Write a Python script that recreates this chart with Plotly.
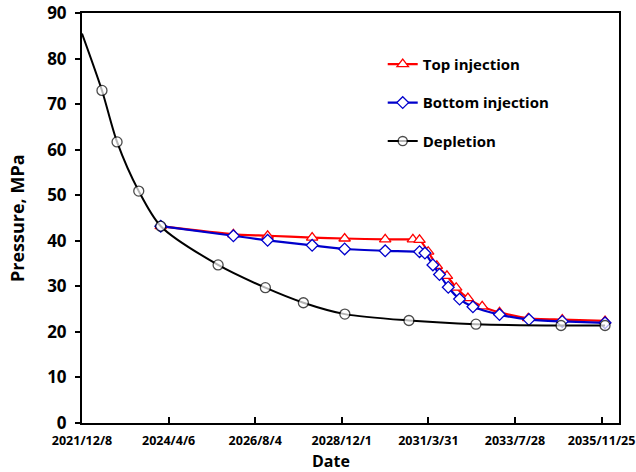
import pandas as pd
import plotly.graph_objects as go

start = pd.Timestamp("2021-12-08")

# Day offsets from 2021/12/8 and pressures (MPa)
dep_days = [0, 196, 344, 557, 773, 1336, 1800, 2173, 2580, 3209, 3867, 4702, 5134]
dep_p = [85.5, 73.0, 61.7, 50.9, 43.2, 34.7, 29.7, 26.4, 23.9, 22.5, 21.7, 21.4, 21.4]

top_days = [773, 1486, 1822, 2259, 2578, 2976, 3248, 3313, 3398, 3483, 3582, 3673, 3788, 3928, 4098, 4380, 4714, 5134]
top_p = [43.2, 41.4, 41.1, 40.7, 40.5, 40.3, 40.3, 40.2, 37.6, 34.5, 32.3, 29.7, 27.4, 25.6, 24.3, 23.0, 22.7, 22.4]

bot_days = [773, 1486, 1822, 2259, 2578, 2976, 3313, 3366, 3444, 3509, 3595, 3706, 3837, 4098, 4387, 4714, 5134]
bot_p = [43.2, 41.1, 40.1, 39.0, 38.2, 37.8, 37.6, 37.3, 34.7, 32.6, 29.8, 27.2, 25.5, 23.8, 22.7, 22.3, 22.0]

tick_labels = ["2021/12/8", "2024/4/6", "2026/8/4", "2028/12/1", "2031/3/31", "2033/7/28", "2035/11/25"]
x_end = "2036-05-14"


def to_dates(days):
    return [start + pd.Timedelta(days=d) for d in days]


FONT = "Open Sans"

fig = go.Figure()
fig.add_trace(go.Scatter(
    x=to_dates(top_days), y=top_p, name="Top injection", legendgroup="a",
    mode="lines+markers", line=dict(color="#FF0000", width=2.2, shape="spline", smoothing=0.6),
    marker=dict(symbol="triangle-up", size=10, color="white", line=dict(color="#FF0000", width=1.3)),
))
fig.add_trace(go.Scatter(
    x=to_dates(bot_days), y=bot_p, name="Bottom injection", legendgroup="b",
    mode="lines+markers", line=dict(color="#0000CC", width=2.2, shape="spline", smoothing=0.6),
    marker=dict(symbol="diamond", size=9, color="white", line=dict(color="#0000CC", width=1.3)),
))
fig.add_trace(go.Scatter(
    x=to_dates(dep_days), y=dep_p, name="Depletion", legendgroup="c",
    mode="lines+markers", line=dict(color="black", width=2, shape="spline", smoothing=0.8),
    marker=dict(symbol="circle", size=[0] + [10] * (len(dep_days) - 1), color="white",
                line=dict(color="black", width=1.3)),
))

fig.update_layout(
    width=636, height=472,
    margin=dict(l=82, r=17, t=13, b=49, autoexpand=False),
    paper_bgcolor="white", plot_bgcolor="white",
    font=dict(family=FONT, color="black"),
    legend=dict(x=0.56, y=0.915, xanchor="left", yanchor="top",
                font=dict(size=15, weight="bold", family=FONT),
                tracegroupgap=16, itemwidth=30, bgcolor="rgba(0,0,0,0)"),
    showlegend=True,
    annotations=[
        dict(text="Date", xref="paper", yref="paper", x=0.4637, y=-0.0927,
             xanchor="center", yanchor="middle", showarrow=False,
             font=dict(size=16, weight="bold", family=FONT)),
        dict(text="Pressure, MPa", xref="paper", yref="paper", x=-0.121, y=0.5,
             xanchor="center", yanchor="middle", showarrow=False, textangle=-90,
             font=dict(size=18, weight="bold", family=FONT)),
    ],
)
fig.update_xaxes(
    type="date", range=[start, pd.Timestamp(x_end)], automargin=False,
    tickvals=pd.to_datetime(tick_labels, format="%Y/%m/%d"), ticktext=tick_labels,
    ticks="inside", ticklen=6, tickwidth=1.5, tickcolor="black", ticklabelstandoff=5,
    tickfont=dict(size=12.5, weight="bold", family=FONT),
    showline=True, linecolor="black", linewidth=2, mirror=True, showgrid=False, zeroline=False,
)
fig.update_yaxes(
    range=[0, 90], tickvals=list(range(0, 91, 10)), automargin=False,
    ticks="outside", ticklen=5, tickwidth=1.5, tickcolor="black", ticklabelstandoff=5,
    tickfont=dict(size=17, weight="bold", family=FONT),
    showline=True, linecolor="black", linewidth=2, mirror=True, showgrid=False, zeroline=False,
)

fig.write_html(
    "out.html",
    config={"displayModeBar": False},
    post_script="document.body.style.margin='0';document.body.style.overflow='hidden';",
)
